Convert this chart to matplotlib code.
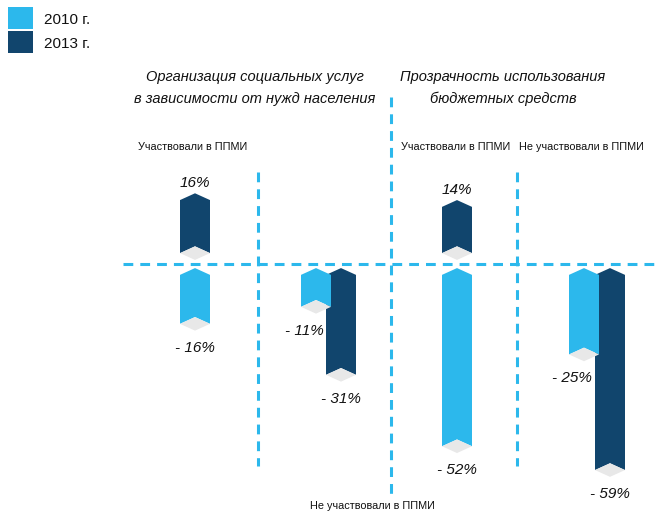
import matplotlib
matplotlib.use("Agg")
import matplotlib.pyplot as plt
from matplotlib.patches import Polygon

plt.rcParams['font.family'] = ['Liberation Sans', 'DejaVu Sans']

# data
years = ["2010 г.", "2013 г."]
sections = ["Организация социальных услуг\nв зависимости от нужд населения",
            "Прозрачность использования\nбюджетных средств"]
groups = ["Участвовали в ППМИ", "Не участвовали в ППМИ"]
org_2010 = [-16, -11]
org_2013 = [16, -31]
tr_2010 = [-52, -25]
tr_2013 = [14, -59]

LIGHT = "#2cb8ec"
DARK = "#11456d"
GREY = "#e8e8e8"

K = 3.4        # pixels per percent
ZERO = 264     # pixel row of zero line


def ypx(p):
    return (ZERO - p) / K


def arrow_bar(ax, xc, v, color, w=30, c=2.0):
    xl, xr = xc - w / 2, xc + w / 2
    if v > 0:
        base = 3.2
        tip = base + v + 1.6
    else:
        tip = -1.2
        base = v - 1.6
    body = [(xl, base), (xl, tip - c), (xc, tip), (xr, tip - c),
            (xr, base), (xc, base + c)]
    ax.add_patch(Polygon(body, closed=True, fc=color, ec='none'))
    dia = [(xl, base), (xc, base + c), (xr, base), (xc, base - c)]
    ax.add_patch(Polygon(dia, closed=True, fc=GREY, ec='none'))
    return tip, base


def label(ax, xc, v, tip, base, dx=0):
    if v > 0:
        ax.text(xc + dx, tip + 3.0, f"{v}%", ha='center', va='center',
                fontsize=11, style='italic', color='#111111')
    else:
        ax.text(xc + dx, base - 7.0, f"- {abs(v)}%", ha='center', va='center',
                fontsize=11, style='italic', color='#111111')


fig = plt.figure(figsize=(6.59, 5.14), dpi=100)
ax = fig.add_axes([0, 0, 1, 1])
ax.set_xlim(0, 659)
ax.set_ylim(ypx(514), ypx(0))
ax.axis('off')

dash = dict(color=LIGHT, lw=2.2, ls=(0, (3.2, 2.3)))
ax.plot([123, 655], [0, 0], **dash)
ax.plot([258, 258], [ypx(172), ypx(466)], **dash)
ax.plot([391, 391], [ypx(97), ypx(496)], **dash)
ax.plot([517, 517], [ypx(172), ypx(466)], **dash)

# bar centres: (light, dark) per group
pos = [[(195, 195), (316, 341)], [(457, 457), (584, 610)]]
vals = [(org_2010, org_2013), (tr_2010, tr_2013)]
for s in range(2):
    for g in range(2):
        xl, xd = pos[s][g]
        v10 = vals[s][0][g]
        v13 = vals[s][1][g]
        t13, b13 = arrow_bar(ax, xd, v13, DARK)
        t10, b10 = arrow_bar(ax, xl, v10, LIGHT)
        shift = -12 if xl != xd else 0
        label(ax, xd, v13, t13, b13)
        label(ax, xl, v10, t10, b10, dx=shift)

# section titles
ax.text(255, ypx(88), sections[0], ha='center', va='center', fontsize=10.5,
        style='italic', color='#111111', linespacing=1.75)
ax.text(503, ypx(88), sections[1], ha='center', va='center', fontsize=10.5,
        style='italic', color='#111111', linespacing=1.75)

# group labels
gl = dict(ha='center', va='center', fontsize=7.8, color='#111111')
ax.text(193, ypx(147), groups[0], **gl)
ax.text(456, ypx(147), groups[0], **gl)
ax.text(581, ypx(147), groups[1], **gl)
ax.text(372, ypx(506), groups[1], **gl)

# legend
for i, (yr, col) in enumerate(zip(years, [LIGHT, DARK])):
    top = 7 + 24 * i
    ax.add_patch(Polygon([(8, ypx(top)), (33, ypx(top)), (33, ypx(top + 22)), (8, ypx(top + 22))],
                         closed=True, fc=col, ec='none'))
    ax.text(44, ypx(top + 13), yr, ha='left', va='center', fontsize=11, color='#111111')

fig.savefig("out.png", dpi=100)
